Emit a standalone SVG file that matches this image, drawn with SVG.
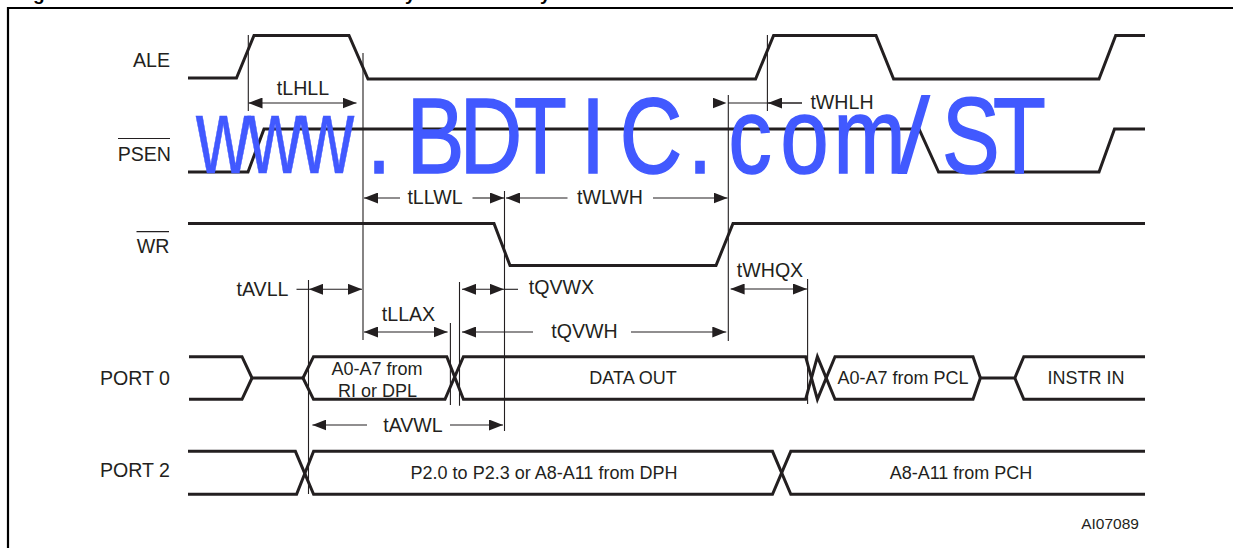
<svg xmlns="http://www.w3.org/2000/svg" width="1233" height="548" viewBox="0 0 1233 548">
<style>
text{font-family:"Liberation Sans",Arial,sans-serif;fill:#231f20}
.l{font-size:19.6px;text-anchor:end}
.t{font-size:19.6px;text-anchor:middle}
.m{font-size:18px;text-anchor:middle}
.sig{fill:none;stroke:#231f20;stroke-width:3;stroke-linejoin:miter}
.tick{fill:none;stroke:#231f20;stroke-width:1.1}
.dim{fill:none;stroke:#231f20;stroke-width:1.1}
.a2{marker-end:url(#arr)}
.a1{marker-start:url(#arr)}
.bar{fill:none;stroke:#231f20;stroke-width:1.2}
.wm{font-size:108px;fill:#4159ff;stroke:#4159ff;stroke-width:1.6}
.w2{stroke-width:.6}
.w3{stroke:none}
.head{font-size:19px;font-weight:bold;fill:#000}
</style>
<defs>
<marker id="arr" markerUnits="userSpaceOnUse" markerWidth="14" markerHeight="11" refX="14" refY="5.5" orient="auto-start-reverse"><path d="M0,0L14,5.5L0,11Z" fill="#231f20"/></marker>
</defs>
<rect width="1233" height="548" fill="#fff"/>
<g id="frame">
<path d="M8,548V8H1233" fill="none" stroke="#000" stroke-width="2.2"/>
<text class="head" x="33" y="-0.5">g</text>
<text class="head" x="405" y="-0.5">y</text>
<text class="head" x="540" y="-0.5">y</text>
</g>
<g id="ALE">
<text class="l" x="170" y="66.5">ALE</text>
<path class="sig" d="M188,78H236.5L254,35.5H349L368,79H755.6L773.6,35.5H876L893.6,79H1099L1115.7,35.5H1145"/>
</g>
<g id="PSEN">
<text class="l" x="171" y="161">PSEN</text>
<path class="bar" d="M118,138.500H170"/>
<path class="sig" d="M188,172H248L264,129H919L938.600,172H1099L1114.500,129H1145"/>
</g>
<g id="WR">
<text class="l" x="169.500" y="253">WR</text>
<path class="bar" d="M136.500,231.700H169"/>
<path class="sig" d="M188,223.500H494L510,265.500H716L733,223.500H1145"/>
</g>
<g id="PORT0">
<text class="l" x="170" y="385">PORT 0</text>
<path class="sig" d="M189,356.700H242L252,378H303"/>
<path class="sig" d="M189,399.300H242L252,378"/>
<path class="sig" d="M303,378L313.500,356.700H446.800L463.400,399.300H805.600L817.400,356.700L835,399.300H973L980.400,378H1014.800L1023.800,356.700H1145"/>
<path class="sig" d="M303,378L313.500,399.300H445L463.400,356.700H805.600L817.400,399.300L835,356.700H973L980.400,378"/>
<path class="sig" d="M1014.800,378L1023.800,399.300H1145"/>
<text class="m" x="377" y="375">A0-A7 from</text>
<text class="m" x="377.500" y="396.700">RI or DPL</text>
<text class="m" x="633" y="384.300">DATA OUT</text>
<text class="m" x="903" y="384.300">A0-A7 from PCL</text>
<text class="m" x="1086" y="384.300">INSTR IN</text>
</g>
<g id="PORT2">
<text class="l" x="170" y="477">PORT 2</text>
<path class="sig" d="M188,451.300H295.400L313.600,494.300H772.500L790.800,451.300H1145"/>
<path class="sig" d="M188,494.300H296.600L313.600,451.300H772.500L790.800,494.300H1145"/>
<text class="m" x="544" y="479.300">P2.0 to P2.3 or A8-A11 from DPH</text>
<text class="m" x="961" y="479.300">A8-A11 from PCH</text>
</g>
<g id="connectors">
<path class="tick" d="M248.300,35V111M363,53V340M504.500,191V431M728.300,95V341M767.400,35V111M807.600,279V404M308.500,280V494M450.400,323V405M459.500,282V405.700"/>
<path class="dim a1 a2" d="M248.500,103H356.500"/>
<path class="dim a1" d="M364,198H400"/>
<path class="dim a2" d="M472.500,198H504"/>
<path class="dim a1" d="M506,198H567.500"/>
<path class="dim a2" d="M653,198H727.500"/>
<path class="dim a2" d="M700,103H726.500" style="stroke:none"/>
<path class="dim" d="M728,103H802"/>
<path class="dim a1" d="M768,103H802"/>
<path class="dim a1 a2" d="M730.600,289H807"/>
<path class="dim" d="M296.500,289.300H309"/>
<path class="dim a1 a2" d="M309,289.300H362"/>
<path class="dim a1 a2" d="M364,332H447.600"/>
<path class="dim a1 a2" d="M462,289.300H504"/>
<path class="dim" d="M504,289.300H518"/>
<path class="dim a1" d="M462,332H533"/>
<path class="dim a2" d="M631,332H726.300"/>
<path class="dim a1" d="M312.400,425H367"/>
<path class="dim a2" d="M450,425H503"/>
<text class="t" x="303" y="95">tLHLL</text>
<text class="t" x="435" y="204">tLLWL</text>
<text class="t" x="610" y="204">tWLWH</text>
<text class="t" x="842" y="109">tWHLH</text>
<text class="t" x="770" y="276.700">tWHQX</text>
<text class="t" x="262.500" y="296">tAVLL</text>
<text class="t" x="408.500" y="320.700">tLLAX</text>
<text class="t" x="561.500" y="294">tQVWX</text>
<text class="t" x="584.500" y="338">tQVWH</text>
<text class="t" x="413" y="431.700">tAVWL</text>
</g>
<g id="code"><text x="1110" y="529" text-anchor="middle" style="font-size:15.500px">AI07089</text></g>
<g id="watermark">
<text class="wm w2" transform="scale(.7,1)" x="280 354 428" y="173.300">www</text>
<text class="wm" transform="scale(.8,1)" x="458.750 508.500 574.750 642.500 726.250 774.600 860 910.750 975.750 1041.750" y="173.300">.BDTIC.com</text>
<text class="wm w3" transform="scale(1.1,1)" x="816" y="173.300">/</text>
<text class="wm" transform="scale(.8,1)" x="1177.500 1241.250" y="173.300">ST</text>
</g>
</svg>
